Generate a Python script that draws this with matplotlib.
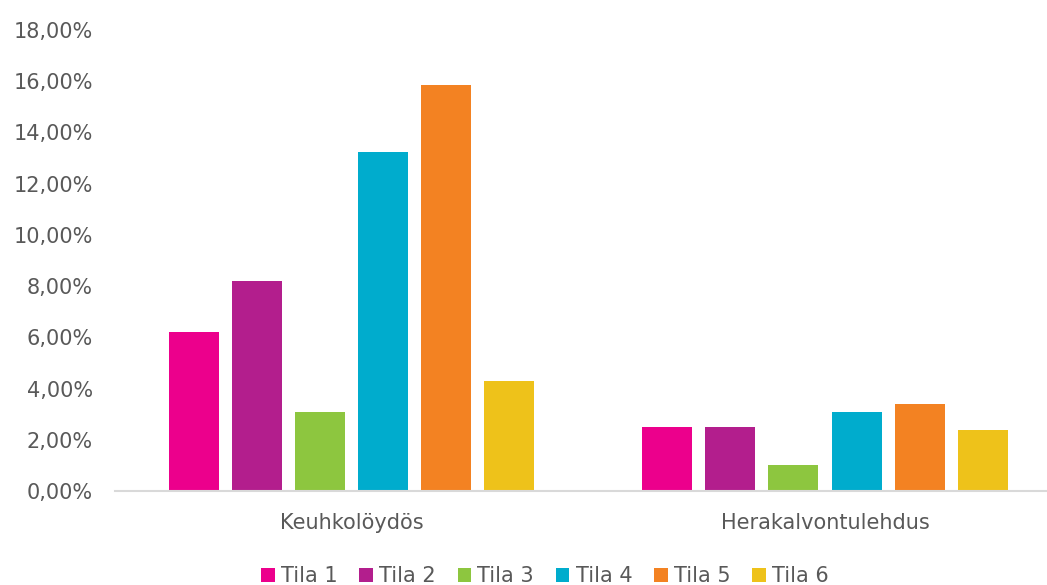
import matplotlib
matplotlib.use("Agg")
import matplotlib.pyplot as plt
import numpy as np

# Data (percent)
categories = ["Keuhkolöydös", "Herakalvontulehdus"]
series_names = ["Tila 1", "Tila 2", "Tila 3", "Tila 4", "Tila 5", "Tila 6"]
tila1 = [6.2, 2.5]
tila2 = [8.2, 2.5]
tila3 = [3.1, 1.0]
tila4 = [13.25, 3.1]
tila5 = [15.85, 3.4]
tila6 = [4.3, 2.4]
yticks = [0, 2, 4, 6, 8, 10, 12, 14, 16, 18]

colors = ["#EC008C", "#B31E8D", "#8DC63F", "#00ACCD", "#F38222", "#EEC21A"]
text_color = "#595959"

plt.rcParams["font.family"] = ["DejaVu Sans"]

fig = plt.figure(figsize=(10.47, 5.85), dpi=100)
ax = fig.add_axes([115 / 1047, 1 - 491 / 585, (1047 - 115) / 1047, (491 - 30) / 585])

x = np.arange(len(categories))
step = 0.1332
width = 0.1057
all_series = [tila1, tila2, tila3, tila4, tila5, tila6]
for i, (vals, name) in enumerate(zip(all_series, series_names)):
    ax.bar(x + (i - 2.5) * step, vals, width=width, color=colors[i], label=name)

ax.set_xlim(-0.5, 1.469)
ax.set_ylim(0, 18)
ax.set_yticks(yticks)
ax.set_yticklabels([f"{v:.2f}".replace(".", ",") + "%" for v in yticks])
ax.set_xticks(x)
ax.set_xticklabels(categories)

for s in ["top", "right", "left"]:
    ax.spines[s].set_visible(False)
ax.spines["bottom"].set_color("#D9D9D9")
ax.spines["bottom"].set_linewidth(1.5)

ax.tick_params(axis="y", length=0, pad=16, labelsize=15, labelcolor=text_color)
ax.tick_params(axis="x", length=0, pad=16, labelsize=15, labelcolor=text_color)

leg = fig.legend(loc="center", bbox_to_anchor=(545 / 1047, 1 - 576 / 585),
                 ncol=6, frameon=False, fontsize=15,
                 handlelength=0.65, handleheight=0.65, handletextpad=0.3,
                 columnspacing=1.05, borderpad=0)
for t in leg.get_texts():
    t.set_color(text_color)

fig.savefig("out.png", dpi=100)
